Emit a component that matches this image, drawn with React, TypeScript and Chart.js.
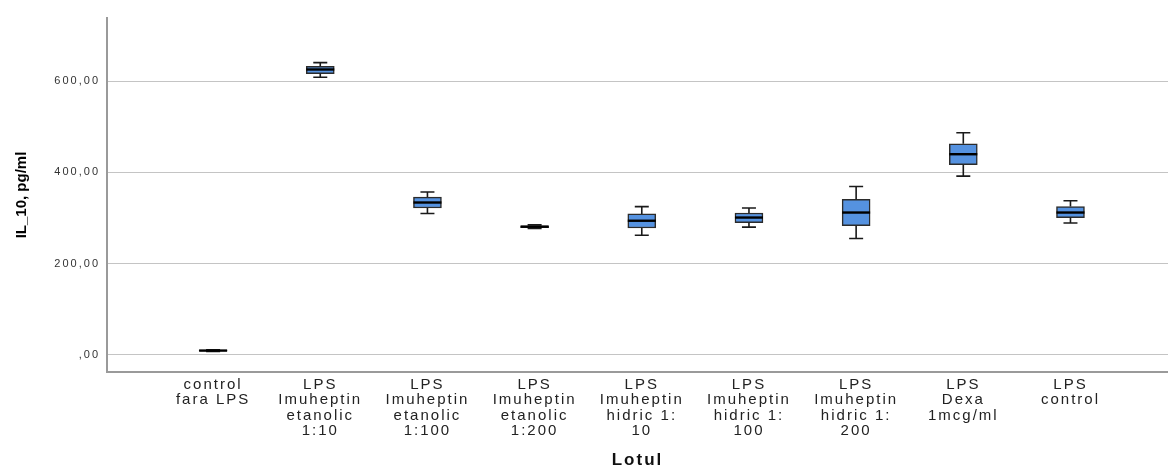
import React, { useEffect, useRef } from "react";
import { Chart, registerables } from "chart.js";

Chart.register(...registerables);

const categories: string[][] = [
  ["control", "fara LPS"],
  ["LPS", "Imuheptin", "etanolic", "1:10"],
  ["LPS", "Imuheptin", "etanolic", "1:100"],
  ["LPS", "Imuheptin", "etanolic", "1:200"],
  ["LPS", "Imuheptin", "hidric 1:", "10"],
  ["LPS", "Imuheptin", "hidric 1:", "100"],
  ["LPS", "Imuheptin", "hidric 1:", "200"],
  ["LPS", "Dexa", "1mcg/ml"],
  ["LPS", "control"],
];

const minValues = [7, 609, 310, 277, 262, 280, 255, 392, 289];
const q1Values = [8, 617, 322, 279, 278, 290, 283, 417, 301];
const medianValues = [9, 626, 334, 281, 294, 301, 312, 440, 312];
const q3Values = [10, 633, 346, 283, 309, 311, 341, 463, 325];
const maxValues = [11, 641, 357, 285, 325, 322, 369, 487, 338];

const yTicks = [0, 200, 400, 600];

const formatTick = (v: number) => (v === 0 ? ",00" : `${v},00`);

const FONT = "'Liberation Sans', Arial, sans-serif";

function withSpacing(scale: any, method: string, spacing: string) {
  const key = "__wrapped_" + method;
  if (scale[key]) return;
  const orig = scale[method];
  scale[method] = function (...args: any[]) {
    const ctx = this.ctx;
    const prev = ctx.letterSpacing;
    ctx.letterSpacing = spacing;
    try {
      return orig.apply(this, args);
    } finally {
      ctx.letterSpacing = prev;
    }
  };
  scale[key] = true;
}

const boxPlugin = {
  id: "boxExtras",
  afterDatasetsDraw(chart: any) {
    const { ctx, scales } = chart;
    const xs = scales.x;
    const ys = scales.y;
    ctx.save();
    for (let i = 0; i < categories.length; i++) {
      const cx = xs.getPixelForValue(i);
      const yMin = ys.getPixelForValue(minValues[i]);
      const yQ1 = ys.getPixelForValue(q1Values[i]);
      const yMed = ys.getPixelForValue(medianValues[i]);
      const yQ3 = ys.getPixelForValue(q3Values[i]);
      const yMax = ys.getPixelForValue(maxValues[i]);
      ctx.strokeStyle = "#1a1a1a";
      ctx.lineWidth = 1.6;
      ctx.beginPath();
      ctx.moveTo(cx, yQ3);
      ctx.lineTo(cx, yMax);
      ctx.moveTo(cx - 7, yMax);
      ctx.lineTo(cx + 7, yMax);
      ctx.moveTo(cx, yQ1);
      ctx.lineTo(cx, yMin);
      ctx.moveTo(cx - 7, yMin);
      ctx.lineTo(cx + 7, yMin);
      ctx.stroke();
      ctx.strokeStyle = "#000";
      ctx.lineWidth = 2.4;
      ctx.beginPath();
      ctx.moveTo(cx - 14, yMed);
      ctx.lineTo(cx + 14, yMed);
      ctx.stroke();
    }
    ctx.restore();
  },
};

export default function App() {
  const ref = useRef<HTMLCanvasElement | null>(null);

  useEffect(() => {
    document.body.style.margin = "0";
    if (!ref.current) return;
    const chart = new Chart(ref.current, {
      type: "bar",
      data: {
        datasets: [
          {
            data: categories.map((_, i) => ({ x: i, y: [q1Values[i], q3Values[i]] })) as any,
            backgroundColor: "#5592e0",
            borderColor: "#2b2b2b",
            borderWidth: 1.5,
            borderSkipped: false,
            barThickness: 28,
          },
        ],
      },
      options: {
        animation: false,
        responsive: true,
        maintainAspectRatio: false,
        layout: { padding: { top: 18, left: 0, right: 0, bottom: 0 } },
        plugins: { legend: { display: false }, tooltip: { enabled: false } },
        scales: {
          x: {
            type: "linear",
            offset: false,
            min: -0.99,
            max: 8.91,
            grid: { display: false, drawTicks: false },
            border: { display: true, color: "#9a9a9a", width: 2 },
            afterBuildTicks: (scale: any) => {
              scale.ticks = categories.map((_, i) => ({ value: i }));
            },
            afterFit: (scale: any) => {
              scale.height = 96;
              withSpacing(scale, "drawLabels", "2px");
              withSpacing(scale, "drawTitle", "2px");
            },
            ticks: {
              autoSkip: false,
              maxRotation: 0,
              minRotation: 0,
              padding: 5,
              color: "#222",
              font: { family: FONT, size: 15, lineHeight: 1.03 },
              callback: (v: any) => categories[Math.round(Number(v))] ?? "",
            },
            title: {
              display: true,
              text: "Lotul",
              color: "#111",
              font: { family: FONT, size: 17, weight: "bold", lineHeight: 1 },
              padding: { top: 0, bottom: -1 },
            },
          },
          y: {
            min: -38,
            max: 739,
            grid: { color: "#c4c4c4", lineWidth: 1, drawTicks: false },
            border: { display: true, color: "#9a9a9a", width: 2 },
            afterBuildTicks: (scale: any) => {
              scale.ticks = yTicks.map((v) => ({ value: v }));
            },
            afterFit: (scale: any) => {
              scale.width = 107;
              withSpacing(scale, "drawLabels", "2px");
            },
            ticks: {
              padding: 7,
              color: "#333",
              font: { family: FONT, size: 11 },
              callback: (v: any) => formatTick(Number(v)),
            },
            title: {
              display: true,
              text: "IL_10, pg/ml",
              color: "#000",
              font: { family: FONT, size: 15, weight: "bold" },
              padding: { top: 13, bottom: 0 },
            },
          },
        },
      },
      plugins: [boxPlugin],
    });
    return () => chart.destroy();
  }, []);

  return (
    <div style={{ position: "relative", width: 1168, height: 468 }}>
      <canvas ref={ref} />
    </div>
  );
}
